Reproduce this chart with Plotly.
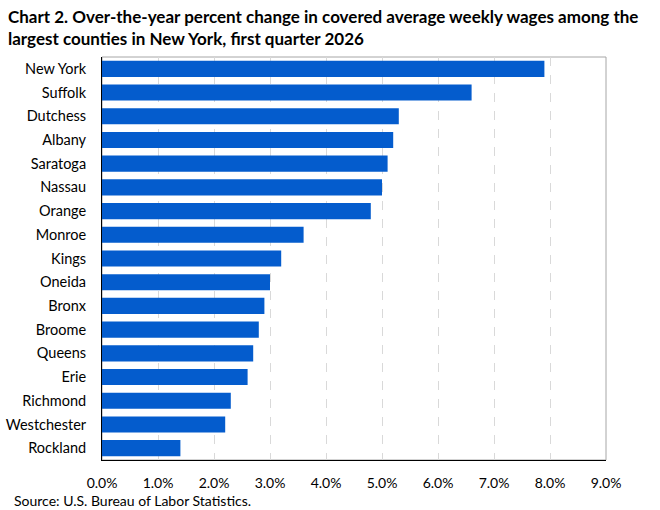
from plotly import graph_objects

counties = [
    "New York", "Suffolk", "Dutchess", "Albany", "Saratoga", "Nassau",
    "Orange", "Monroe", "Kings", "Oneida", "Bronx", "Broome", "Queens",
    "Erie", "Richmond", "Westchester", "Rockland",
]
pct_change = [
    7.9, 6.6, 5.3, 5.2, 5.1, 5.0, 4.8, 3.6, 3.2, 3.0, 2.9, 2.8, 2.7,
    2.6, 2.3, 2.2, 1.4,
]
tick_values = [0, 1, 2, 3, 4, 5, 6, 7, 8, 9]
tick_labels = [f"{v:.1f}%" for v in tick_values]

font_name = "Lato"

figure = graph_objects.Figure(
    graph_objects.Bar(
        x=pct_change,
        y=counties,
        orientation="h",
        marker=dict(color="#045CCD", line=dict(width=0)),
        width=0.68,
    )
)

# gray frame on top/right like the original
figure.add_shape(
    type="rect", xref="x domain", yref="y domain",
    x0=0, x1=1, y0=0, y1=1,
    line=dict(color="#A6A6A6", width=1), layer="below",
)

figure.update_layout(
    width=660,
    height=510,
    margin=dict(l=102, r=54, t=57, b=50, autoexpand=False),
    plot_bgcolor="white",
    paper_bgcolor="white",
    font=dict(family=font_name, size=14, color="#000000"),
    title=dict(
        text="<b>Chart 2. Over-the-year percent change in covered average weekly wages among the<br>largest counties in New York, first quarter 2026</b>",
        x=8 / 660, xanchor="left", xref="container",
        y=0.955, yanchor="top", yref="container",
        font=dict(family=font_name, size=17),
    ),
    showlegend=False,
    bargap=0.32,
)
figure.update_xaxes(
    range=[0, 9],
    tickvals=tick_values,
    ticktext=tick_labels,
    showgrid=True,
    gridcolor="#D9D9D9",
    griddash="dash",
    gridwidth=1,
    showline=True,
    linecolor="#000000",
    linewidth=1,
    zeroline=False,
    ticks="",
    ticklabelstandoff=10,
    automargin=False,
)
figure.update_yaxes(
    autorange="reversed",
    showline=True,
    linecolor="#000000",
    linewidth=1,
    showgrid=False,
    ticks="",
    ticklabelstandoff=12,
    tickfont=dict(size=14.5),
    automargin=False,
)
figure.add_annotation(
    text="Source: U.S. Bureau of Labor Statistics.",
    xref="paper", yref="paper",
    x=(12 - 102) / 504, y=-(500 - 460) / 403, xanchor="left", yanchor="middle",
    showarrow=False,
    font=dict(family=font_name, size=14),
)
figure.write_html(
    "out.html",
    config=dict(displayModeBar=False),
    post_script="document.body.style.margin='0';document.body.style.overflow='hidden';",
)
